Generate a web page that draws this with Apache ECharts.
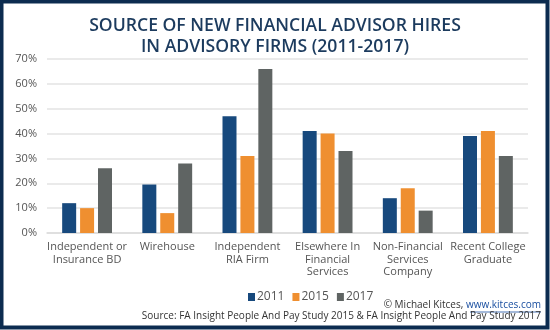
<!DOCTYPE html>
<html>
<head>
<meta charset="utf-8">
<style>
  html, body { margin: 0; padding: 0; background: #ffffff; }
  #chart { width: 550px; height: 330px; }
</style>
<script src="https://cdn.jsdelivr.net/npm/echarts@6/dist/echarts.min.js"></script>
</head>
<body>
<div id="chart"></div>
<script>
// Hire sources (share of new advisor hires, %)
const categories = [
  'Independent or\nInsurance BD',
  'Wirehouse',
  'Independent\nRIA Firm',
  'Elsewhere In\nFinancial\nServices',
  'Non-Financial\nServices\nCompany',
  'Recent College\nGraduate'
];
const years = ['2011', '2015', '2017'];
const values2011 = [12, 19.5, 47, 41, 14, 39];
const values2015 = [10, 8, 31, 40, 18, 41];
const values2017 = [26, 28, 66, 33, 9, 31];
const yTicks = [0, 10, 20, 30, 40, 50, 60, 70];

const colors = ['#17497d', '#ef8f30', '#5f6463'];
const seriesValues = [values2011, values2015, values2017];
const fontFamily = '"Open Sans", "Noto Sans", sans-serif';

const chart = echarts.init(document.getElementById('chart'), null, { renderer: 'canvas' });

chart.setOption({
  animation: false,
  backgroundColor: '#ffffff',
  title: {
    text: 'SOURCE OF NEW FINANCIAL ADVISOR HIRES\nIN ADVISORY FIRMS (2011-2017)',
    left: 'center',
    top: 10,
    textStyle: {
      color: '#1c3b5e',
      fontFamily: fontFamily,
      fontWeight: 600,
      fontSize: 17.6,
      lineHeight: 21
    }
  },
  legend: {
    data: years,
    left: 243,
    top: 286,
    itemWidth: 7,
    itemHeight: 8,
    itemGap: 8,
    icon: 'rect',
    textStyle: { color: '#555555', fontFamily: fontFamily, fontSize: 12, padding: [0, 0, 0, -3] }
  },
  grid: { left: 47, right: 22, top: 59, bottom: 97, containLabel: false },
  xAxis: {
    type: 'category',
    data: categories,
    axisLine: { lineStyle: { color: '#dcdcdc', width: 1.5 } },
    axisTick: { show: false },
    axisLabel: {
      color: '#555555',
      fontFamily: fontFamily,
      fontSize: 11,
      lineHeight: 12.5,
      margin: 8,
      interval: 0
    }
  },
  yAxis: {
    type: 'value',
    min: yTicks[0],
    max: yTicks[yTicks.length - 1],
    interval: 10,
    axisLine: { show: false },
    axisTick: { show: false },
    splitLine: { lineStyle: { color: '#e3e3e3', width: 1.5 } },
    axisLabel: {
      color: '#555555',
      fontFamily: fontFamily,
      fontSize: 11,
      margin: 10,
      formatter: v => v + '%'
    }
  },
  series: years.map((y, i) => ({
    name: y,
    type: 'bar',
    data: seriesValues[i],
    barWidth: 14,
    barGap: '28%',
    itemStyle: { color: colors[i] }
  })),
  graphic: [
    {
      type: 'rect',
      shape: { x: 1.5, y: 1.5, width: 546, height: 326 },
      style: { fill: 'none', stroke: '#0c2c50', lineWidth: 4 },
      silent: true
    },
    {
      type: 'text',
      right: 9,
      top: 300,
      style: {
        text: '© Michael Kitces, {link|www.kitces.com}',
        fill: '#333333',
        font: '10px ' + fontFamily,
        rich: {
          link: { fill: '#1a4fa0', fontSize: 10, fontFamily: fontFamily }
        }
      }
    },
    {
      type: 'line',
      shape: { x1: 470, y1: 312, x2: 541, y2: 312 },
      style: { stroke: '#1a4fa0', lineWidth: 0.8 }
    },
    {
      type: 'text',
      right: 9,
      top: 311,
      style: {
        text: 'Source: FA Insight People And Pay Study 2015 & FA Insight People And Pay Study 2017',
        fill: '#333333',
        font: '10px ' + fontFamily
      }
    }
  ]
});
</script>
</body>
</html>
